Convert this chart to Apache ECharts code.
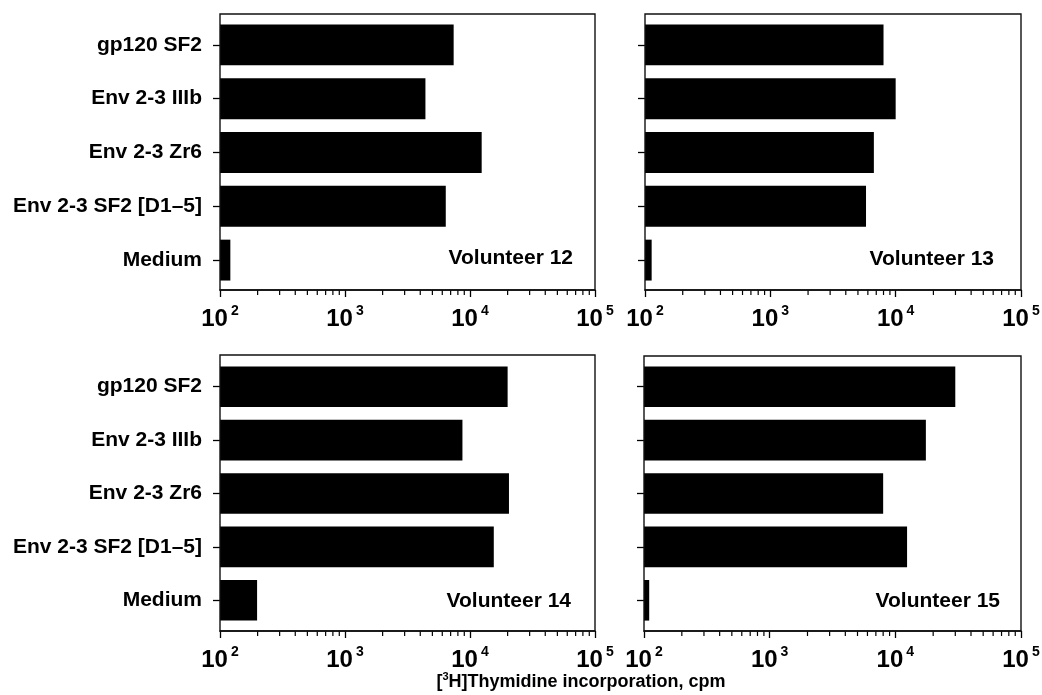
<!DOCTYPE html>
<html>
<head>
<meta charset="utf-8">
<title>[3H]Thymidine incorporation by volunteer</title>
<script src="https://cdn.jsdelivr.net/npm/echarts@6/dist/echarts.min.js"></script>
<style>
  html, body { margin: 0; padding: 0; background: #fff; }
  #chart { width: 1042px; height: 695px; }
</style>
</head>
<body>
<div id="chart"></div>
<script>
// Antigens tested, top to bottom
const categories = ['gp120 SF2', 'Env 2-3 IIIb', 'Env 2-3 Zr6', 'Env 2-3 SF2 [D1–5]', 'Medium'];

// Panel titles
const volunteerNames = ['Volunteer 12', 'Volunteer 13', 'Volunteer 14', 'Volunteer 15'];

// [3H]thymidine incorporation, cpm (same order as categories)
const cpmVolunteer12 = [7400, 4400, 12400, 6400, 121];
const cpmVolunteer13 = [8000, 10000, 6700, 5800, 113];
const cpmVolunteer14 = [20000, 8700, 20500, 15500, 198];
const cpmVolunteer15 = [30000, 17500, 8000, 12400, 110];

// Log axis: decade labels (10^n) and intermediate tick marks
const axisMin = 100;
const axisMax = 100000;
const decadeExponents = ['2', '3', '4', '5'];
const minorTickValues = [
  200, 300, 400, 500, 600, 700, 800, 900,
  2000, 3000, 4000, 5000, 6000, 7000, 8000, 9000,
  20000, 30000, 40000, 50000, 60000, 70000, 80000, 90000
];

const xTitleParts = ['[', '3', 'H]Thymidine incorporation, cpm'];

const seriesValues = [cpmVolunteer12, cpmVolunteer13, cpmVolunteer14, cpmVolunteer15];

// Panel frames (frameTop/frameBottom) and the band area used by the categories
const panels = [
  { left: 220, width: 375, frameTop: 14,  frameBottom: 290, bandTop: 18,  bandBottom: 287, labels: true,  titleX: 573,  titleY: 258 },
  { left: 645, width: 376, frameTop: 14,  frameBottom: 290, bandTop: 18,  bandBottom: 287, labels: false, titleX: 994,  titleY: 259 },
  { left: 220, width: 375, frameTop: 355, frameBottom: 631, bandTop: 360, bandBottom: 627, labels: true,  titleX: 571,  titleY: 601 },
  { left: 644, width: 377, frameTop: 356, frameBottom: 631, bandTop: 360, bandBottom: 627, labels: false, titleX: 1000, titleY: 601 }
];

const FONT = '"Liberation Sans", Arial, Helvetica, sans-serif';
const INK = '#000';

const grids = [];
const xAxes = [];
const yAxes = [];
const series = [];
const graphics = [];

panels.forEach((p, i) => {
  const axisOffset = p.frameBottom - p.bandBottom;

  grids.push({
    left: p.left,
    top: p.bandTop,
    width: p.width,
    height: p.bandBottom - p.bandTop,
    containLabel: false,
    outerBoundsMode: 'none'
  });

  xAxes.push({
    type: 'log',
    logBase: 10,
    gridIndex: i,
    min: axisMin,
    max: axisMax,
    position: 'bottom',
    offset: axisOffset,
    axisLine: { show: true, lineStyle: { color: INK, width: 1.5 } },
    axisTick: { show: true, length: 7, lineStyle: { color: INK, width: 1.3 } },
    minorTick: { show: false },
    splitLine: { show: false },
    axisLabel: {
      margin: 14,
      color: INK,
      showMinLabel: true,
      showMaxLabel: true,
      formatter: (value, idx) => '{b|10}{e|' + decadeExponents[idx] + '}',
      rich: {
        b: { fontSize: 24, fontWeight: 'bold', fontFamily: FONT, color: INK, lineHeight: 31 },
        e: { fontSize: 14, fontWeight: 'bold', fontFamily: FONT, color: INK, verticalAlign: 'top', lineHeight: 14, padding: [0, 0, 0, 3] }
      }
    }
  });

  yAxes.push({
    type: 'category',
    gridIndex: i,
    inverse: true,
    data: categories,
    axisLine: { show: false },
    axisTick: { show: true, alignWithLabel: true, length: 7, lineStyle: { color: INK, width: 1.3 } },
    splitLine: { show: false },
    axisLabel: {
      show: p.labels,
      margin: 18,
      color: INK,
      fontSize: 21,
      fontWeight: 'bold',
      fontFamily: FONT
    }
  });

  series.push({
    type: 'bar',
    xAxisIndex: i,
    yAxisIndex: i,
    data: seriesValues[i],
    barCategoryGap: '24%',
    itemStyle: { color: INK },
    clip: true,
    silent: true
  });

  // Short tick marks at 2..9 x 10^n, positioned through the log axis
  series.push({
    type: 'custom',
    xAxisIndex: i,
    yAxisIndex: i,
    silent: true,
    clip: false,
    data: minorTickValues.map(v => [v, 0]),
    encode: { x: 0, y: 1 },
    renderItem: (params, api) => {
      const x = api.coord([api.value(0), 0])[0];
      const cs = params.coordSys;
      const y0 = cs.y + cs.height + axisOffset;
      return {
        type: 'line',
        shape: { x1: x, y1: y0, x2: x, y2: y0 + 5 },
        style: { stroke: INK, lineWidth: 1.2 }
      };
    }
  });

  // Panel frame
  graphics.push({
    type: 'rect',
    silent: true,
    z: 50,
    shape: { x: p.left, y: p.frameTop, width: p.width, height: p.frameBottom - p.frameTop },
    style: { fill: 'none', stroke: '#111', lineWidth: 1.4 }
  });

  // Volunteer name in the lower right of each panel
  graphics.push({
    type: 'text',
    silent: true,
    z: 50,
    x: p.titleX,
    y: p.titleY,
    style: {
      text: volunteerNames[i],
      fill: INK,
      font: 'bold 21px ' + FONT,
      textAlign: 'right',
      textVerticalAlign: 'middle'
    }
  });
});

// Shared x-axis title with superscript
graphics.push({
  type: 'text',
  silent: true,
  z: 50,
  x: 581,
  y: 682,
  style: {
    text: '{t|' + xTitleParts[0] + '}{s|' + xTitleParts[1] + '}{t|' + xTitleParts[2] + '}',
    textAlign: 'center',
    textVerticalAlign: 'middle',
    rich: {
      t: { fontSize: 18, fontWeight: 'bold', fontFamily: FONT, fill: INK, color: INK, lineHeight: 22 },
      s: { fontSize: 11, fontWeight: 'bold', fontFamily: FONT, fill: INK, color: INK, verticalAlign: 'top', lineHeight: 12 }
    }
  }
});

const chart = echarts.init(document.getElementById('chart'), null, { renderer: 'canvas' });
chart.setOption({
  backgroundColor: '#fff',
  animation: false,
  grid: grids,
  xAxis: xAxes,
  yAxis: yAxes,
  series: series,
  graphic: graphics
});
</script>
</body>
</html>
